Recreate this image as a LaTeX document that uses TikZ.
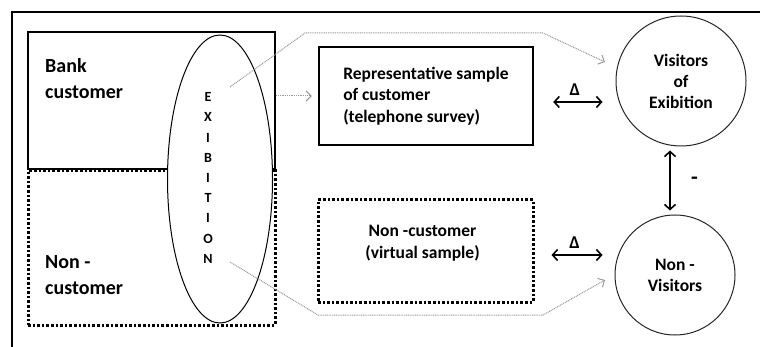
\documentclass[tikz,border=0pt]{standalone}
\usepackage{fontspec}
\setmainfont{Carlito}
\usetikzlibrary{arrows.meta, positioning, calc, shapes.geometric}

\begin{document}
\begin{tikzpicture}[
    x=1pt, y=-1pt,
    % Box styling for the groups and the samples
    solidbox/.style={draw, line width=2.4pt, inner sep=0pt, align=left},
    dotbox/.style={draw, line width=3pt, dash pattern=on 2.6pt off 2pt, inner sep=0pt},
    visitor/.style={circle, draw=black!85, line width=1pt, inner sep=0pt, align=center,
        font=\fontsize{17.5}{21}\selectfont\bfseries},
    % Typography helpers
    grouplbl/.style={font=\fontsize{20}{26}\selectfont\bfseries, align=left, inner sep=0pt},
    boxlbl/.style={font=\fontsize{17.5}{21.5}\selectfont\bfseries, align=left},
    letters/.style={font=\fontsize{14}{20.2}\selectfont\bfseries, align=center, inner sep=0pt},
    % Connectors
    link/.style={draw=gray!80, dash pattern=on 1pt off 0.8pt, line width=1pt,
        -{Straight Barb[length=5pt, width=10pt, line width=1pt]}},
    dbl/.style={line width=1.6pt,
        {Straight Barb[length=5pt, width=11pt]}-{Straight Barb[length=5pt, width=11pt]}},
    frame/.style={line width=2.4pt}
]
    \useasboundingbox (0,0) rectangle (760,347);

    % ==========================================
    % 1. OUTER FRAME
    % ==========================================
    \draw[frame] (12,352) |- (765,12);

    % ==========================================
    % 2. POPULATION ON THE LEFT
    % ==========================================
    \node[solidbox, minimum width=247pt, minimum height=137pt] (bank) at (151.5,100.5) {};
    \node[dotbox, minimum width=247pt, minimum height=154pt] (noncust) at (151.5,248) {};
    \node[grouplbl, anchor=west] (banklbl) at (45,79) {Bank\\customer};
    \node[grouplbl, anchor=west] (noncustlbl) at (45,275) {Non -\\customer};

    % Exhibition ellipse over both groups
    \node[ellipse, draw, fill=white, line width=1pt, inner sep=0pt,
        minimum width=105pt, minimum height=288pt] (exib) at (220,179) {};
    \node[letters] (exibword) at (208,178) {E\\X\\I\\B\\I\\T\\I\\O\\N};

    % ==========================================
    % 3. SAMPLES
    % ==========================================
    \node[solidbox, boxlbl, minimum width=214pt, minimum height=98pt] (rep) at (426,96)
        {Representative sample\\of customer\\(telephone survey)};
    \node[dotbox, minimum width=215pt, minimum height=102pt] (virt) at (425.5,251) {};
    \node[boxlbl, align=center] (virtlbl) at ($(virt)+(-3,-8)$) {Non -customer\\(virtual sample)};

    % ==========================================
    % 4. VISITORS / NON-VISITORS
    % ==========================================
    \node[visitor, minimum size=130pt] (visit) at (681,81) {Visitors\\of\\Exibition};
    \node[visitor, minimum size=120pt] (nonvisit) at (675,275) {Non -\\Visitors};

    % Comparison arrows
    \draw[dbl, shorten <=19pt, shorten >=13pt] ([yshift=-6pt]rep.east) -- ([yshift=-21pt]visit.west)
        node[midway, above=2pt, font=\fontsize{18}{18}\selectfont\bfseries] (d1) {Δ};
    \draw[dbl, shorten <=17pt, shorten >=12pt] ([yshift=-4pt]virt.east) -- ([yshift=20pt]nonvisit.west)
        node[midway, above=2pt, font=\fontsize{18}{18}\selectfont\bfseries] (d2) {Δ};
    \draw[dbl, shorten <=4pt, shorten >=4pt] ([xshift=-11pt]visit.south) -- ([xshift=-11pt]visit.south |- nonvisit.north)
        node[midway, right=17pt, font=\fontsize{22}{22}\selectfont\bfseries] (minus) {-};

    % ==========================================
    % 5. SAMPLING FLOWS (dotted)
    % ==========================================
    \coordinate (etop) at (230,87);
    \coordinate (ebot) at (230,262);
    \draw[link, shorten >=6pt] (bank.east |- rep.west) -- (rep.west);
    \draw[link] (etop) -- (305,33) -- (543,33) -- ($(visit)+(-76,-19)$);
    \draw[link] (ebot) -- (318,315) -- (543,315) -- ($(nonvisit)+(-70,5)$);

\end{tikzpicture}
\end{document}
